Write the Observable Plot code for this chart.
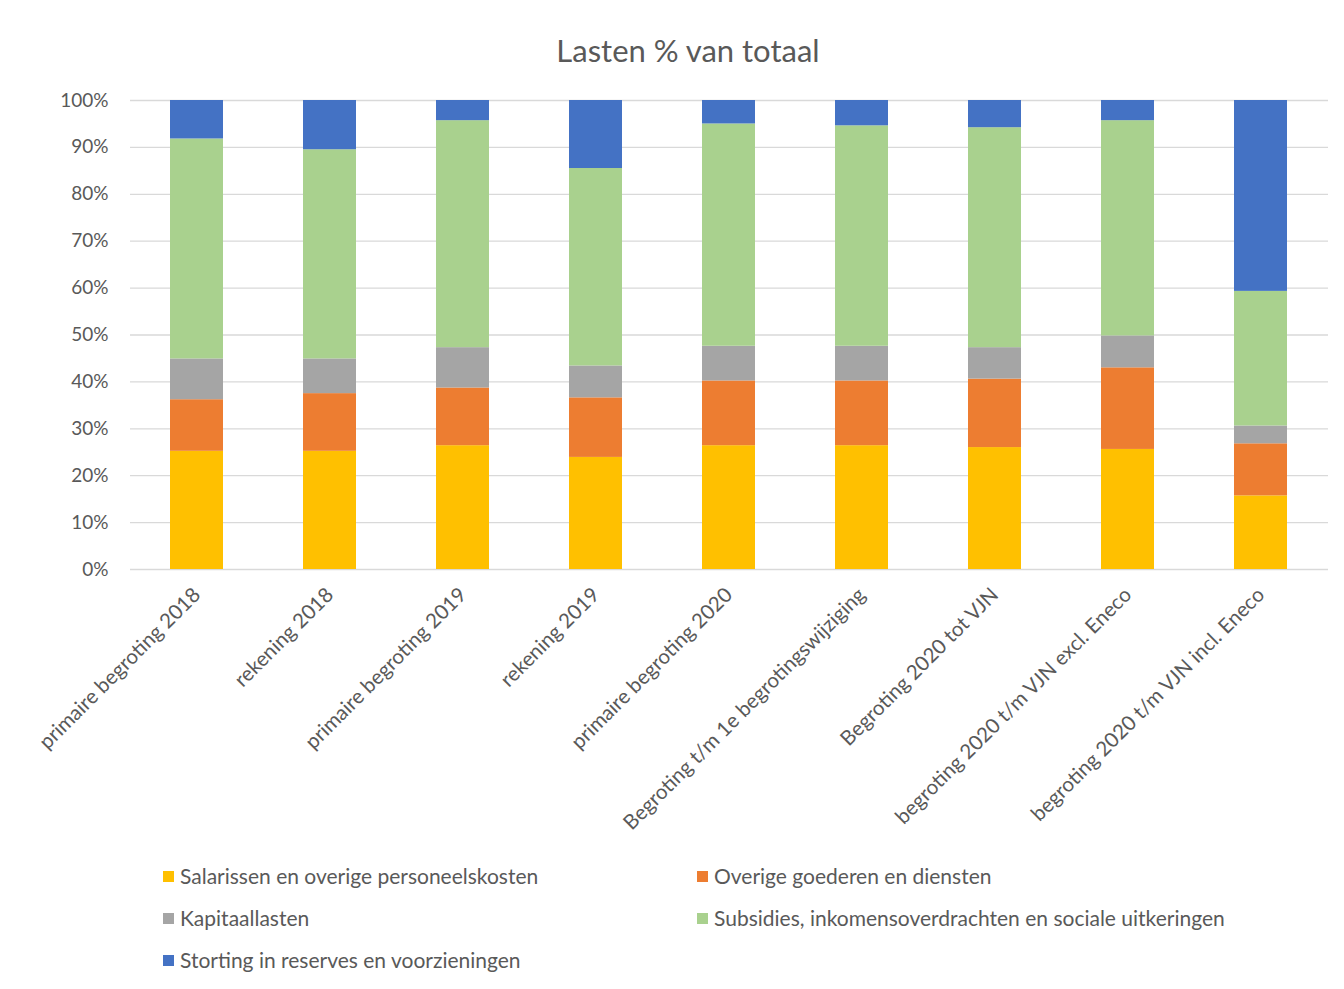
<!DOCTYPE html>
<html><head><meta charset="utf-8">
<script src="https://cdn.jsdelivr.net/npm/d3@7"></script>
<script src="https://cdn.jsdelivr.net/npm/@observablehq/plot@0.6"></script>
<style>
body{margin:0;background:#fff;font-family:Lato,"Open Sans",sans-serif;color:#595959}
#wrap{position:relative;width:1344px;height:989px;overflow:hidden}
#title{position:absolute;left:0;top:0;width:1344px;box-sizing:border-box;padding-left:32px;height:85px;padding-top:31px;line-height:38px;font-size:31px;text-align:center}
#chart{position:absolute;left:0;top:85px}
.leg{position:absolute;font-size:21px;line-height:26px;white-space:nowrap}
.sw{position:absolute;width:11px;height:11px}
</style></head><body>
<div id="wrap"><div id="title">Lasten % van totaal</div><div id="chart"></div><div id="legend"></div></div>
<script>
const categories = [
  "primaire begroting 2018",
  "rekening 2018",
  "primaire begroting 2019",
  "rekening 2019",
  "primaire begroting 2020",
  "Begroting t/m 1e begrotingswijziging",
  "Begroting 2020 tot VJN",
  "begroting 2020 t/m VJN excl. Eneco",
  "begroting 2020 t/m VJN incl. Eneco"
];
const seriesNames = [
  "Salarissen en overige personeelskosten",
  "Overige goederen en diensten",
  "Kapitaallasten",
  "Subsidies, inkomensoverdrachten en sociale uitkeringen",
  "Storting in reserves en voorzieningen"
];
const salarissen = [25.2, 25.2, 26.4, 23.9, 26.4, 26.4, 26.0, 25.6, 15.7];
const overige    = [11.0, 12.3, 12.3, 12.7, 13.8, 13.8, 14.6, 17.4, 11.1];
const kapitaal   = [ 8.7,  7.4,  8.6,  6.8,  7.4,  7.4,  6.7,  6.8,  3.8];
const subsidies  = [46.9, 44.6, 48.4, 42.1, 47.4, 47.0, 46.9, 45.9, 28.7];
const storting   = [ 8.2, 10.5,  4.3, 14.5,  5.0,  5.4,  5.8,  4.3, 40.7];
const seriesColors = ["#FFC000", "#ED7D31", "#A5A5A5", "#A9D18E", "#4472C4"];
const yTicks = [0, 0.1, 0.2, 0.3, 0.4, 0.5, 0.6, 0.7, 0.8, 0.9, 1];

const seriesValues = [salarissen, overige, kapitaal, subsidies, storting];
const data = [];
categories.forEach((c, i) => seriesValues.forEach((vals, j) =>
  data.push({category: c, series: seriesNames[j], value: vals[i]})));

const plot = Plot.plot({
  width: 1344, height: 760,
  marginTop: 15, marginLeft: 130, marginRight: 16, marginBottom: 276,
  style: {fontFamily: "Lato, 'Open Sans', sans-serif", fontSize: "18px", color: "#595959", background: "transparent"},
  x: {domain: categories, paddingInner: 0.6, paddingOuter: 0.3, label: null},
  y: {domain: [0, 1], label: null},
  color: {domain: seriesNames, range: seriesColors},
  marks: [
    Plot.gridY(yTicks, {stroke: "#d9d9d9", strokeOpacity: 1, strokeWidth: 1.3}),
    Plot.barY(data, {x: "category", y: "value", fill: "series", offset: "normalize"}),
    Plot.axisY(yTicks, {tickFormat: d3.format(".0%"), tickSize: 0, tickPadding: 22, fill: "#595959", fontSize: 19, label: null}),
    Plot.axisX({tickRotate: -45, tickSize: 0, tickPadding: 22, fill: "#595959", fontSize: 20.5, label: null})
  ]
});
document.getElementById("chart").appendChild(plot);

const legend = document.getElementById("legend");
const legPos = [[163, 876], [697, 876], [163, 918], [697, 918], [163, 960]];
seriesNames.forEach((name, j) => {
  const [x, y] = legPos[j];
  const sw = document.createElement("div");
  sw.className = "sw";
  sw.style.left = x + "px"; sw.style.top = (y - 5) + "px"; sw.style.background = seriesColors[j];
  legend.appendChild(sw);
  const t = document.createElement("div");
  t.className = "leg";
  t.style.left = (x + 17) + "px"; t.style.top = (y - 13) + "px";
  t.textContent = name;
  legend.appendChild(t);
});
</script>
</body></html>
